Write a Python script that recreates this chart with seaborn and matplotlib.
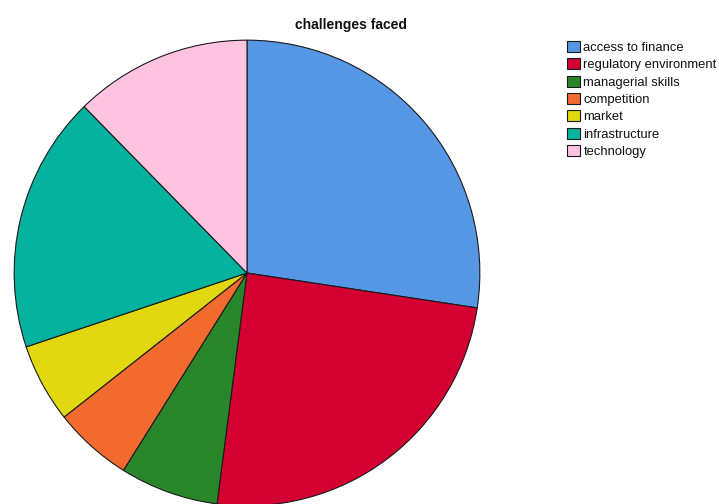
import matplotlib
matplotlib.use("Agg")
import matplotlib.pyplot as plt
import seaborn as sns
import pandas as pd

# Responses per challenge category
categories = ["access to finance", "regulatory environment", "managerial skills",
              "competition", "market", "infrastructure", "technology"]
counts = [20, 18, 5, 4, 4, 13, 9]
slice_colors = ["#5596E5", "#D50032", "#2A862A", "#F26A2E",
                "#E2D810", "#04B29E", "#FFC3E2"]

df = pd.DataFrame({"challenge": categories, "count": counts})

sns.set_theme(style="white")
plt.rcParams["font.family"] = ["Liberation Sans", "DejaVu Sans"]
palette = sns.color_palette(slice_colors)

fig = plt.figure(figsize=(7.19, 5.04), dpi=100)
W, H = 719, 504
# square axes holding the pie (partly running off the bottom edge)
ax = fig.add_axes([13 / W, -3 / H, 468 / W, 468 / H])
wedges, _ = ax.pie(
    df["count"], colors=palette, startangle=90, counterclock=False,
    radius=1.0,
    wedgeprops=dict(edgecolor="#1a1a1a", linewidth=0.8, antialiased=True),
)
ax.set_xlim(-1.005, 1.005)
ax.set_ylim(-1.005, 1.005)
ax.set_aspect("equal")
ax.axis("off")

fig.text(351 / W, 1 - 25 / H, "challenges faced", ha="center", va="center",
         fontsize=10, fontweight="bold", color="#111111")

leg = fig.legend(
    wedges, df["challenge"], loc="upper left",
    bbox_to_anchor=(567 / W, 1 - 41 / H), bbox_transform=fig.transFigure,
    frameon=False, fontsize=9.4, borderpad=0, borderaxespad=0,
    handlelength=0.98, handleheight=0.9, handletextpad=0.28,
    labelspacing=0.34,
)
for t in leg.get_texts():
    t.set_color("#111111")

fig.savefig("out.png", dpi=100, facecolor="white")
